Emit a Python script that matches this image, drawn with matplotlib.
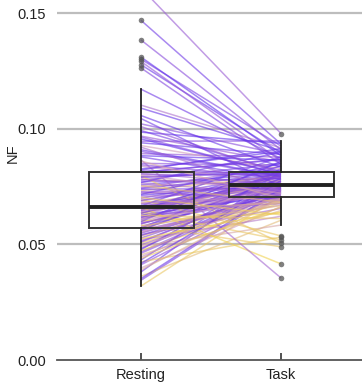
import matplotlib
matplotlib.use("Agg")
import matplotlib.pyplot as plt
from matplotlib.colors import LinearSegmentedColormap

plt.rcParams["font.family"] = ["Liberation Sans", "DejaVu Sans"]

# one value per subject, same order in every list
resting = [0.0320, 0.0345, 0.0362, 0.0381, 0.0398, 0.0412, 0.0425, 0.0433, 0.0446, 0.0455,
           0.0468, 0.0474, 0.0483, 0.0491, 0.0498, 0.0506, 0.0513, 0.0521, 0.0528, 0.0536,
           0.0543, 0.0549, 0.0555, 0.0560, 0.0565,
           0.0569, 0.0573, 0.0578, 0.0584, 0.0588, 0.0593, 0.0597, 0.0602, 0.0607, 0.0611,
           0.0615, 0.0620, 0.0624, 0.0628, 0.0633, 0.0637, 0.0641, 0.0645, 0.0648, 0.0651,
           0.0654, 0.0656, 0.0658, 0.0660, 0.0661,
           0.0663, 0.0668, 0.0675, 0.0681, 0.0688, 0.0694, 0.0700, 0.0707, 0.0713, 0.0720,
           0.0726, 0.0733, 0.0739, 0.0745, 0.0752, 0.0758, 0.0765, 0.0771, 0.0778, 0.0784,
           0.0790, 0.0797, 0.0803, 0.0808, 0.0813,
           0.0818, 0.0827, 0.0839, 0.0851, 0.0866, 0.0879, 0.0893, 0.0910, 0.0928, 0.0947,
           0.0957, 0.0969, 0.0993, 0.1022, 0.1058, 0.1103, 0.1172, 0.1264, 0.1278, 0.1292,
           0.1302, 0.1311, 0.1385, 0.1470, 0.1610,
           0.0352, 0.0390, 0.0418, 0.0440, 0.0462, 0.0478, 0.0495, 0.0510, 0.0525, 0.0539,
           0.0552, 0.0562,
           0.0571, 0.0580, 0.0590, 0.0599, 0.0609, 0.0617, 0.0626, 0.0635, 0.0643, 0.0649,
           0.0653, 0.0657, 0.0659,
           0.0666, 0.0678, 0.0691, 0.0703, 0.0717, 0.0729, 0.0742, 0.0755, 0.0768, 0.0781,
           0.0793, 0.0801, 0.0811,
           0.0822, 0.0845, 0.0861, 0.0884, 0.0903, 0.0921, 0.0940, 0.0965, 0.0986, 0.1010,
           0.1045, 0.1090]

task = [0.0712, 0.0734, 0.0605, 0.0818, 0.0664, 0.0722, 0.0532, 0.0830, 0.0700, 0.0647,
        0.0738, 0.0682, 0.0745, 0.0584, 0.0717, 0.0694, 0.0749, 0.0622, 0.0729, 0.0704,
        0.0656, 0.0724, 0.0687, 0.0705, 0.0671,
        0.0754, 0.0702, 0.0741, 0.0490, 0.0768, 0.0709, 0.0755, 0.0636, 0.0784, 0.0736,
        0.0765, 0.0691, 0.0798, 0.0714, 0.0779, 0.0747, 0.0520, 0.0791, 0.0772, 0.0677,
        0.0803, 0.0727, 0.0756, 0.0813, 0.0416,
        0.0775, 0.0707, 0.0757, 0.0751, 0.0789, 0.0537, 0.0807, 0.0731, 0.0763, 0.0761,
        0.0697, 0.0796, 0.0743, 0.0838, 0.0777, 0.0811, 0.0719, 0.0786, 0.0852, 0.0752,
        0.0822, 0.0506, 0.0801, 0.0759, 0.0867,
        0.0809, 0.0903, 0.0770, 0.0843, 0.0355, 0.0782, 0.0878, 0.0794, 0.0826, 0.0948,
        0.0805, 0.0857, 0.0815, 0.0890, 0.0834, 0.0918, 0.0872, 0.0847, 0.0896, 0.0862,
        0.0926, 0.0884, 0.0910, 0.0935, 0.0980,
        0.0742, 0.0698, 0.0776, 0.0662, 0.0726, 0.0812, 0.0688, 0.0752, 0.0640, 0.0732,
        0.0701, 0.0785,
        0.0820, 0.0668, 0.0745, 0.0860, 0.0693, 0.0758, 0.0612, 0.0800, 0.0719, 0.0840,
        0.0679, 0.0770, 0.0735,
        0.0880, 0.0710, 0.0795, 0.0628, 0.0850, 0.0740, 0.0805, 0.0683, 0.0900, 0.0748,
        0.0810, 0.0722, 0.0870,
        0.0915, 0.0788, 0.0700, 0.0865, 0.0792, 0.0730, 0.0890, 0.0802, 0.0938, 0.0808,
        0.0750, 0.0905]

# colour value of each subject's line (0 = violet, 1 = yellow)
tone = [0.9, 0.2, 0.85, 0.1, 0.7, 0.35, 0.9, 0.05, 0.6, 0.8, 0.3, 0.95, 0.15, 0.75, 0.4,
        0.9, 0.1, 0.55, 0.25, 0.85, 0.45, 0.2, 0.7, 0.35, 0.6,
        0.3, 0.8, 0.15, 0.9, 0.5, 0.2, 0.65, 0.95, 0.1, 0.4, 0.75, 0.25, 0.55, 0.05, 0.85,
        0.3, 0.9, 0.2, 0.6, 0.35, 0.1, 0.7, 0.45, 0.15, 0.95,
        0.25, 0.6, 0.1, 0.8, 0.35, 0.9, 0.2, 0.5, 0.05, 0.7, 0.3, 0.85, 0.15, 0.4, 0.65,
        0.1, 0.55, 0.25, 0.2, 0.75, 0.1, 0.9, 0.3, 0.45, 0.15,
        0.2, 0.05, 0.6, 0.3, 0.45, 0.15, 0.35, 0.1, 0.7, 0.25, 0.05, 0.4, 0.2, 0.3, 0.1,
        0.5, 0.15, 0.25, 0.1, 0.35, 0.2, 0.05, 0.3, 0.15, 0.4,
        0.1, 0.8, 0.05, 0.9, 0.3, 0.15, 0.75, 0.4, 0.95, 0.2, 0.6, 0.1,
        0.25, 0.85, 0.35, 0.05, 0.7, 0.2, 0.9, 0.15, 0.55, 0.1, 0.8, 0.3, 0.45,
        0.15, 0.6, 0.25, 0.9, 0.05, 0.4, 0.2, 0.85, 0.1, 0.3, 0.15, 0.65, 0.2,
        0.1, 0.3, 0.75, 0.05, 0.2, 0.45, 0.1, 0.25, 0.05, 0.35, 0.15, 0.1]

conditions = ["Resting", "Task"]
yticks = [0.00, 0.05, 0.10, 0.15]

cmap = LinearSegmentedColormap.from_list(
    "vy", [(0.0, "#5a2cf0"), (0.35, "#9050d8"), (0.7, "#d09cbc"), (1.0, "#f6dc3a")])

fig = plt.figure(figsize=(3.62, 3.85), dpi=100)
ax = fig.add_axes([57 / 362, 25 / 385, 308 / 362, 360 / 385])

# white box bodies underneath
ax.boxplot([resting, task], positions=[1, 2], widths=0.75, whis=1.5,
           patch_artist=True, showcaps=False, showfliers=False,
           boxprops=dict(facecolor="white", edgecolor="none"),
           whiskerprops=dict(color="none"), medianprops=dict(color="none"),
           zorder=1)

for r, t, c in zip(resting, task, tone):
    ax.plot([1, 2], [r, t], color=cmap(c), alpha=0.6, lw=1.1, zorder=3,
            solid_capstyle="butt")

# outlines, medians, whiskers and outliers on top
ax.boxplot([resting, task], positions=[1, 2], widths=0.75, whis=1.5,
           patch_artist=True, showcaps=False,
           boxprops=dict(facecolor="none", edgecolor="#333333", linewidth=1.4),
           whiskerprops=dict(color="#222222", linewidth=1.3),
           medianprops=dict(color="#222222", linewidth=2.8),
           flierprops=dict(marker="o", markersize=4, markerfacecolor="#555555",
                           markeredgecolor="none", alpha=0.75),
           zorder=4)

ax.set_xlim(0.4, 2.6)
ax.set_ylim(0, 0.1558)
ax.set_xticks([1, 2])
ax.set_xticklabels(conditions)
ax.set_yticks(yticks)
ax.set_yticklabels(["%.2f" % v for v in yticks])

for v in yticks[1:]:
    ax.axhline(v, color="#bdbdbd", lw=1.6, zorder=0)

for s in ["top", "right", "left"]:
    ax.spines[s].set_visible(False)
ax.spines["bottom"].set_color("#555555")
ax.spines["bottom"].set_linewidth(1.3)
ax.tick_params(axis="x", direction="in", length=5, width=1.2, color="#333333",
               pad=6, labelsize=10.5, labelcolor="#222222")
ax.tick_params(axis="y", length=0, pad=8, labelsize=10.5, labelcolor="#222222")

ax.set_ylabel("NF", fontsize=10.5, color="#222222")
ax.yaxis.set_label_coords(-0.12, 0.575)

fig.savefig("out.png", dpi=100)
